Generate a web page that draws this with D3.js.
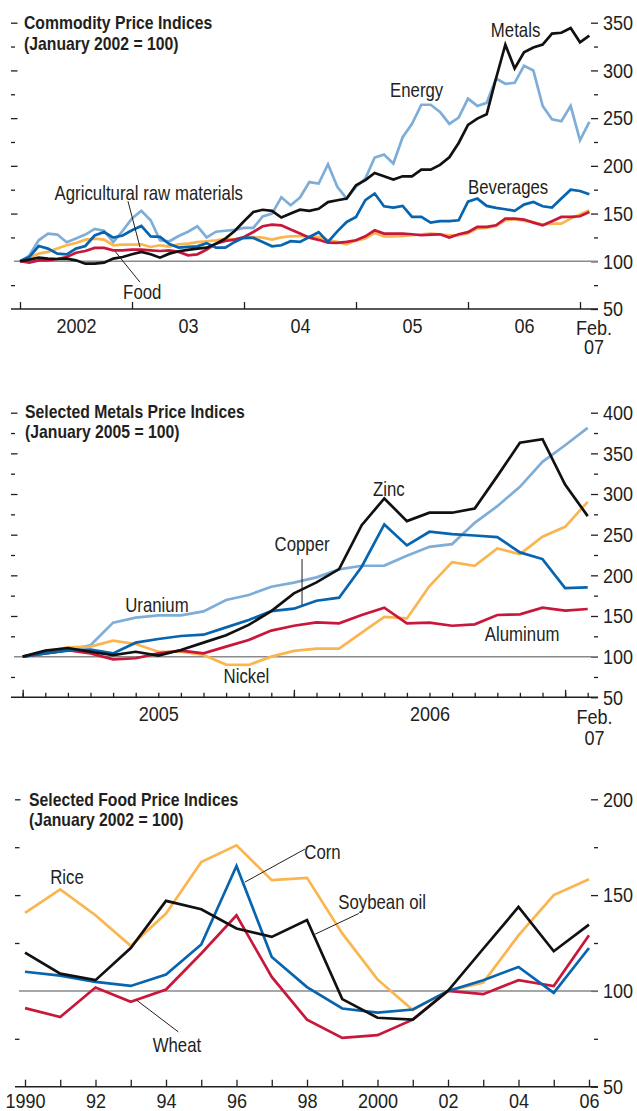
<!DOCTYPE html>
<html>
<head>
<meta charset="utf-8">
<script src="https://cdn.jsdelivr.net/npm/d3@7/dist/d3.min.js"></script>
<style>
    body { margin: 0; background: #fff; }
    svg text { font-family: 'Liberation Sans Narrow', 'Arial Narrow', 'Liberation Sans', Arial, sans-serif; fill: #231f20; }
    .axis path.domain { display: none; }
    .axis line { stroke: #231f20; stroke-width: 1.3; }
</style>
</head>
<body>
<svg id="chart" width="637" height="1111"></svg>
<script>
// ---- Commodity price indices, monthly Jan 2002 .. Feb 2007 (Jan 2002 = 100)
const metals = [100, 101.7, 103.8, 102.8, 102.4, 102.8, 101, 97.5, 97.5, 98.6, 102.8, 104.5,
    107.3, 109.8, 107.3, 103.8, 108, 110.5, 112, 113.3, 114.3, 118.5, 123.8, 131.8,
    142, 151.7, 154, 152.8, 145.8, 150, 154, 152.8, 155, 162, 164, 165.7,
    179.7, 185, 192.6, 189, 185.6, 189, 189, 196, 196, 201, 209, 224,
    243, 249.5, 254, 291.5, 327, 302, 319, 324, 327, 338.6, 339.5, 344.5,
    329.5, 336.5];
const energy = [100, 106, 122, 129, 128, 120, 124, 128, 134, 132, 120, 132,
    145, 153, 143, 122, 121, 126.5, 131, 136.7, 125, 131, 132, 133,
    135, 135, 147, 150, 167, 158.7, 166.8, 183, 181.4, 201.7, 178, 165.7,
    178, 186.6, 208.7, 211.8, 202.4, 230, 244, 264, 264, 256.5, 244, 250.6,
    270.5, 262.8, 266, 291.5, 286, 287, 304.8, 300, 262.8, 248.8, 246.7, 262.8,
    226.8, 246];
const beverages = [100, 104.5, 116, 113.3, 108, 107.3, 113.3, 116, 127, 130.7, 124.8, 127,
    132.5, 137, 126, 125.5, 118, 114.3, 115, 115.7, 119, 114.3, 114.3, 120.3,
    124.8, 124.5, 120.3, 115.7, 116.8, 121, 120.3, 125.5, 130.5, 120.3, 131.4, 141.2,
    146.5, 164, 171, 157.7, 156.3, 158, 146.5, 146.5, 140.5, 142, 142, 143,
    162.5, 165.7, 158, 156, 154.5, 152.8, 159.4, 162.2, 157.7, 156.3, 165.7, 175,
    173.7, 170.2];
const food = [100, 98.6, 101, 101, 102.4, 104.5, 109, 110.8, 114, 114, 111.5, 111.5,
    112.2, 112.2, 111.5, 110.8, 111.5, 109.8, 106.3, 107.3, 112.2, 118.5, 121.3, 122.7,
    125.5, 130.7, 136.7, 138.4, 137.7, 133.2, 129, 124.8, 122.5, 119.4, 119.2, 120.3,
    122, 126.2, 132.5, 129, 129, 129, 128.3, 127.3, 128, 128.3, 124.8, 128.3,
    130.5, 136, 136, 137.7, 144.7, 144.7, 143.7, 140.5, 137.7, 142, 146.5, 146.5,
    147.2, 151.7];
const agriRaw = [100, 103.8, 108, 109.8, 113.3, 116.8, 119.2, 122.7, 123.8, 122.7, 116.8, 117.5,
    117.5, 117.8, 115, 116.8, 115.3, 117.8, 118.5, 120, 121, 122, 123.4, 123,
    124, 125.5, 124.8, 122.7, 125, 126.2, 126.5, 125.8, 125.5, 122.3, 120.3, 117.8,
    121.7, 123.8, 129.7, 126.2, 126.2, 126.6, 127.3, 128.3, 129, 128.3, 127.3, 127.3,
    129.4, 134.2, 135, 137, 143, 144, 142.3, 141.2, 138.4, 139.5, 139.5, 144.7,
    149, 153.5];
const commodityYearLabels = ["2002", "03", "04", "05", "06"];

// ---- Selected metals price indices, monthly Jan 2005 .. Feb 2007 (Jan 2005 = 100)
const uranium = [100, 104, 108, 114, 141.8, 148, 150.8, 150.8, 155.7, 169.6, 175.8, 186,
    191, 197.5, 207.3, 211.8, 212, 224, 235, 238.4, 264.6, 285, 308.8, 339.6, 360, 381.3];
const copper = [100, 104, 107.4, 108.6, 104, 117.2, 121.7, 125.4, 127, 136, 145, 156,
    159, 168.8, 172.5, 210.6, 262.6, 236.8, 253.6, 250.7, 249, 247, 228.2, 220, 184.4, 185.2];
const zinc = [100, 107.4, 110.6, 106, 102, 106, 101.2, 108.2, 117.2, 126.2, 139, 156,
    177.8, 191.3, 207.7, 261.7, 294.5, 266.7, 277, 277, 282.2, 322, 363, 367.4, 311.7, 272.8];
const aluminum = [100, 104, 108, 104, 96.7, 98, 104, 107.4, 104, 112.3, 120.5, 132,
    138, 142.2, 141, 151.2, 160.2, 141, 141.8, 138, 139.7, 151.2, 152, 160.2, 156.5, 158.6];
const nickel = [100, 106, 111.5, 112.3, 119.7, 115.6, 106, 106, 102, 90.2, 89.8, 100,
    107, 109.8, 109.8, 129.5, 149, 147, 186.8, 216.3, 211.8, 233, 226, 247.4, 259.7, 290.4];
const metalsYearLabels = ["2005", "2006"];

// ---- Selected food price indices, annual 1990 .. 2006 (2002 = 100)
const foodYears = d3.range(1990, 2007);
const rice = [140.7, 153, 139.5, 123.5, 140.4, 167.3, 176, 157.8, 159, 130, 106, 90, 100, 104.4, 129, 150, 158.3];
const corn = [110, 108, 104.7, 102.6, 108.5, 124.2, 165.2, 117.7, 102, 90.8, 88.7, 90.3, 100, 105.6, 112.5, 99, 122.4];
const soybeanOil = [120, 109, 105.6, 122.4, 147, 142.6, 132.6, 128.2, 137, 95.7, 86, 85, 100, 122, 143.8, 120.7, 134.6];
const wheat = [91, 86.4, 101.8, 94.3, 100.7, 119.5, 139.5, 107.3, 85, 75.5, 76.9, 85, 100, 98.3, 105.6, 102.5, 129];
const foodYearLabels = ["1990", "92", "94", "96", "98", "2000", "02", "04", "06"];

const colors = {
    black: "#111111",
    lightBlue: "#7eaed8",
    darkBlue: "#0764ae",
    red: "#c8173a",
    orange: "#fbb54f"
};

const svg = d3.select("#chart");
const fontLabel = 20;
const fontTick = 21;

// no narrow face installed, so squeeze the regular one horizontally
function condense(sel, sx) {
    sel.each(function () {
        const t = d3.select(this);
        const xv = +t.attr("x") || 0;
        t.attr("x", xv / sx).attr("transform", `scale(${sx},1)`);
        t.selectAll("tspan").each(function () {
            const ts = d3.select(this);
            if (ts.attr("x") != null) ts.attr("x", +ts.attr("x") / sx);
        });
    });
}

function drawPanel(cfg) {
    const g = svg.append("g");
    const x = cfg.x, y = cfg.y;
    const right = cfg.right, left = cfg.left;
    const base = y(cfg.yDomain[0]);

    // right value axis (labels + major ticks), minor ticks
    const majors = d3.range(cfg.yDomain[0], cfg.yDomain[1] + 1, 50);
    const minors = d3.range(cfg.yDomain[0] + 25, cfg.yDomain[1], 50);
    g.append("g").attr("class", "axis")
        .attr("transform", `translate(${right},0)`)
        .call(d3.axisRight(y).tickValues(majors).tickSize(-7).tickPadding(5))
        .call(a => a.selectAll("text").style("font-size", fontTick + "px").attr("fill", "#231f20").call(condense, 0.86));
    g.append("g").attr("class", "axis")
        .attr("transform", `translate(${right},0)`)
        .call(d3.axisRight(y).tickValues(minors).tickSize(-4).tickFormat(""));

    // left ticks
    const leftMajor = majors.filter(v => v !== 100 && v !== cfg.yDomain[0]);
    const leftMinor = minors.filter(v => v !== 100);
    g.append("g").attr("class", "axis")
        .attr("transform", `translate(${left},0)`)
        .call(d3.axisLeft(y).tickValues(leftMajor).tickSize(-cfg.leftMajor).tickFormat(""));
    g.append("g").attr("class", "axis")
        .attr("transform", `translate(${left},0)`)
        .call(d3.axisLeft(y).tickValues(leftMinor).tickSize(-cfg.leftMinor).tickFormat(""));

    // reference line at 100
    g.append("line")
        .attr("x1", cfg.refStart).attr("x2", right)
        .attr("y1", y(100)).attr("y2", y(100))
        .attr("stroke", "#8a8a8a").attr("stroke-width", 1.5);

    // x axis line
    g.append("line")
        .attr("x1", left).attr("x2", right)
        .attr("y1", base).attr("y2", base)
        .attr("stroke", "#231f20").attr("stroke-width", 1.5);

    // x ticks
    cfg.xTicks.forEach(t => {
        g.append("g").attr("class", "axis")
            .attr("transform", `translate(0,${base})`)
            .call(d3.axisBottom(x).tickValues(t.values).tickSize(-t.size).tickFormat(""));
    });
    // x labels
    g.append("g").attr("class", "axis")
        .attr("transform", `translate(0,${base})`)
        .call(d3.axisBottom(x).tickValues(cfg.xLabelPos).tickSize(0).tickPadding(cfg.xLabelPad)
            .tickFormat((d, i) => cfg.xLabels[i]))
        .call(a => a.selectAll("text").style("font-size", fontTick + "px").attr("fill", "#231f20").call(condense, 0.86));
    (cfg.extra || []).forEach(e => {
        g.append("text")
            .attr("x", x(e.at)).attr("y", base + e.dy)
            .attr("text-anchor", "middle")
            .style("font-size", fontTick + "px")
            .text(e.text)
            .call(condense, 0.86);
    });

    // series
    const line = d3.line()
        .x((d, i) => x(cfg.xValues[i]))
        .y(d => y(d));
    cfg.series.forEach(s => {
        g.append("path")
            .datum(s.values)
            .attr("fill", "none")
            .attr("stroke", s.color)
            .attr("stroke-width", 2.7)
            .attr("stroke-linejoin", "miter")
            .attr("d", line);
    });

    // leader lines
    (cfg.leaders || []).forEach(l => {
        g.append("line")
            .attr("x1", x(l[0])).attr("y1", y(l[1]))
            .attr("x2", x(l[2])).attr("y2", y(l[3]))
            .attr("stroke", "#231f20").attr("stroke-width", 1);
    });

    // series labels
    cfg.labels.forEach(l => {
        g.append("text")
            .attr("x", x(l.at[0])).attr("y", y(l.at[1]))
            .attr("text-anchor", "middle")
            .attr("dominant-baseline", "central")
            .style("font-size", fontLabel + "px")
            .text(l.text)
            .call(condense, 0.84);
    });

    // title
    const title = g.append("text")
        .attr("x", cfg.titleX)
        .style("font-size", "19px")
        .style("font-weight", "bold");
    cfg.title.forEach((t, i) => {
        title.append("tspan").attr("x", cfg.titleX).attr("y", cfg.titleY + i * cfg.titleGap).text(t);
    });
    title.call(condense, 0.83);
}

// ---- panel 1
const months1 = d3.range(metals.length);
drawPanel({
    x: d3.scaleLinear().domain([0, 60]).range([20, 580]),
    y: d3.scaleLinear().domain([50, 350]).range([309, 22.7]),
    yDomain: [50, 350],
    left: 11, right: 598, refStart: 14,
    leftMajor: 6.5, leftMinor: 4,
    xValues: months1,
    xTicks: [{ values: d3.range(0, 61, 12), size: 7 }],
    xLabelPos: d3.range(6, 60, 12),
    xLabels: commodityYearLabels,
    xLabelPad: 9,
    extra: [{ at: 61.5, dy: 26, text: "Feb." }, { at: 61.5, dy: 45, text: "07" }],
    series: [
        { values: energy, color: colors.lightBlue },
        { values: agriRaw, color: colors.orange },
        { values: food, color: colors.red },
        { values: beverages, color: colors.darkBlue },
        { values: metals, color: colors.black }
    ],
    leaders: [[11.57, 162.9, 12.86, 114.7], [12.86, 78, 10.18, 110.5]],
    labels: [
        { text: "Metals", at: [53.1, 342] },
        { text: "Energy", at: [42.5, 279] },
        { text: "Beverages", at: [52.3, 177.6] },
        { text: "Agricultural raw materials", at: [13.8, 171.3] },
        { text: "Food", at: [13.1, 67.5] }
    ],
    title: ["Commodity Price Indices", "(January 2002 = 100)"],
    titleX: 24, titleY: 29, titleGap: 21
});

// ---- panel 2
const months2 = d3.range(uranium.length);
drawPanel({
    x: d3.scaleLinear().domain([0, 24]).range([22.7, 565.1]),
    y: d3.scaleLinear().domain([50, 400]).range([697.3, 412.7]),
    yDomain: [50, 400],
    left: 11, right: 598, refStart: 14,
    leftMajor: 6.5, leftMinor: 4,
    xValues: months2,
    xTicks: [{ values: d3.range(0, 26), size: 4.5 }, { values: [0, 12, 24], size: 7.5 }],
    xLabelPos: [6, 18],
    xLabels: metalsYearLabels,
    xLabelPad: 9,
    extra: [{ at: 25.3, dy: 27, text: "Feb." }, { at: 25.3, dy: 48, text: "07" }],
    series: [
        { values: uranium, color: colors.lightBlue },
        { values: nickel, color: colors.orange },
        { values: aluminum, color: colors.red },
        { values: copper, color: colors.darkBlue },
        { values: zinc, color: colors.black }
    ],
    leaders: [[12.36, 220, 12.36, 163.5]],
    labels: [
        { text: "Uranium", at: [5.94, 163.5] },
        { text: "Copper", at: [12.36, 238.4] },
        { text: "Zinc", at: [16.2, 306] },
        { text: "Nickel", at: [9.9, 75.7] },
        { text: "Aluminum", at: [22.1, 127.9] }
    ],
    title: ["Selected Metals Price Indices", "(January 2005 = 100)"],
    titleX: 25, titleY: 418, titleGap: 20
});

// ---- panel 3
drawPanel({
    x: d3.scaleLinear().domain([1990, 2006]).range([25, 589]),
    y: d3.scaleLinear().domain([50, 200]).range([1086.7, 799.3]),
    yDomain: [50, 200],
    left: 15, right: 598, refStart: 19,
    leftMajor: 5.5, leftMinor: 4.5,
    xValues: foodYears,
    xTicks: [{ values: foodYears, size: 7 }],
    xLabelPos: d3.range(1990, 2007, 2),
    xLabels: foodYearLabels,
    xLabelPad: 6,
    series: [
        { values: rice, color: colors.orange },
        { values: wheat, color: colors.red },
        { values: corn, color: colors.darkBlue },
        { values: soybeanOil, color: colors.black }
    ],
    leaders: [[1996.24, 156.8, 1997.94, 174], [1999.47, 140.4, 1998.23, 129.6], [1993.17, 95.1, 1994.35, 78.6]],
    labels: [
        { text: "Rice", at: [1991.19, 159.3] },
        { text: "Corn", at: [1998.44, 172.4] },
        { text: "Soybean oil", at: [2000.13, 146.3] },
        { text: "Wheat", at: [1994.31, 71.7] }
    ],
    title: ["Selected Food Price Indices", "(January 2002 = 100)"],
    titleX: 29, titleY: 806, titleGap: 20
});
</script>
</body>
</html>
